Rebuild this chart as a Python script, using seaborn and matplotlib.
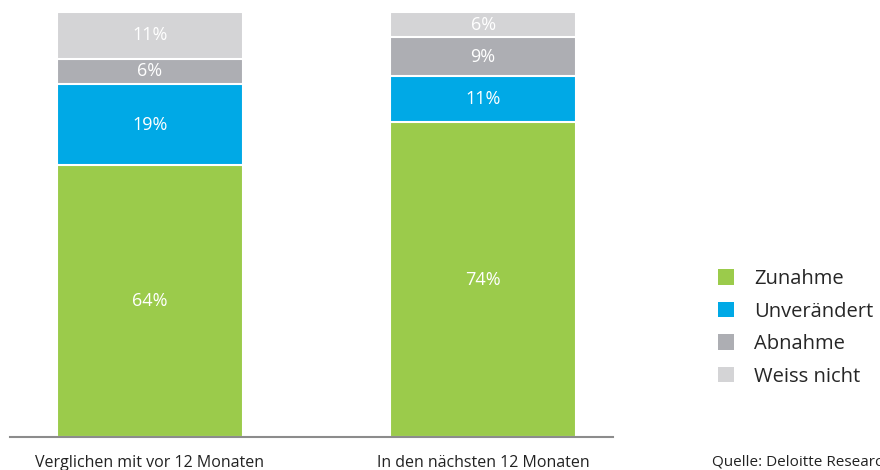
import matplotlib
matplotlib.use("Agg")
import matplotlib.pyplot as plt
from matplotlib.patches import Patch
import numpy as np
import pandas as pd
import seaborn as sns

sns.set_theme(style="white")
plt.rcParams['font.family'] = ['Open Sans', 'DejaVu Sans']

categories = ["Verglichen mit vor 12 Monaten", "In den nächsten 12 Monaten"]
series = ["Zunahme", "Unverändert", "Abnahme", "Weiss nicht"]
zunahme = [64, 74]
unveraendert = [19, 11]
abnahme = [6, 9]
weiss_nicht = [11, 6]
colors = ["#9BCB4B", "#00A9E6", "#ADAEB3", "#D4D4D6"]

values = [zunahme, unveraendert, abnahme, weiss_nicht]
df = pd.DataFrame({s: v for s, v in zip(series, values)}, index=categories)
cum = df.cumsum(axis=1)

fig = plt.figure(figsize=(8.8, 4.7), dpi=100)
ax = fig.add_axes([10 / 880, 33 / 470, 603 / 880, 425 / 470])

# overlay cumulative bars, largest first
for s, c in reversed(list(zip(series, colors))):
    d = pd.DataFrame({"cat": categories, "val": cum[s].values})
    sns.barplot(data=d, x="cat", y="val", color=c, width=0.56,
                edgecolor="white", linewidth=1.5, saturation=1, ax=ax)

# segment labels
for i, cat in enumerate(categories):
    base = 0
    for s in series:
        v = df.loc[cat, s]
        ax.text(i, base + v / 2, f"{v}%", ha="center", va="center",
                color="white", fontsize=13)
        base += v

ax.set_xlim(-0.42, 1.39)
ax.set_ylim(0, 100)
ax.set_xlabel("")
ax.set_ylabel("")
ax.set_yticks([])
ax.tick_params(axis="x", length=0, pad=13, labelsize=11.5, colors="#222222")
for sp in ["top", "left", "right"]:
    ax.spines[sp].set_visible(False)
ax.spines["bottom"].set_color("#8C8C8C")
ax.spines["bottom"].set_linewidth(1.5)

handles = [Patch(facecolor=c, edgecolor="none") for c in colors]
fig.legend(handles, series, loc="upper left", bbox_to_anchor=(708 / 880, 1 - 259 / 470),
           frameon=False, fontsize=14.5, handlelength=0.8, handleheight=0.8,
           handletextpad=1.0, labelspacing=0.62, borderpad=0)

# source note, cut at the right edge as in the original
fig.text(712 / 880, 1 - 462 / 470, "Quelle: Deloitte Research", fontsize=11,
         va="center", ha="left", color="#222222")

fig.savefig("out.png", dpi=100)
